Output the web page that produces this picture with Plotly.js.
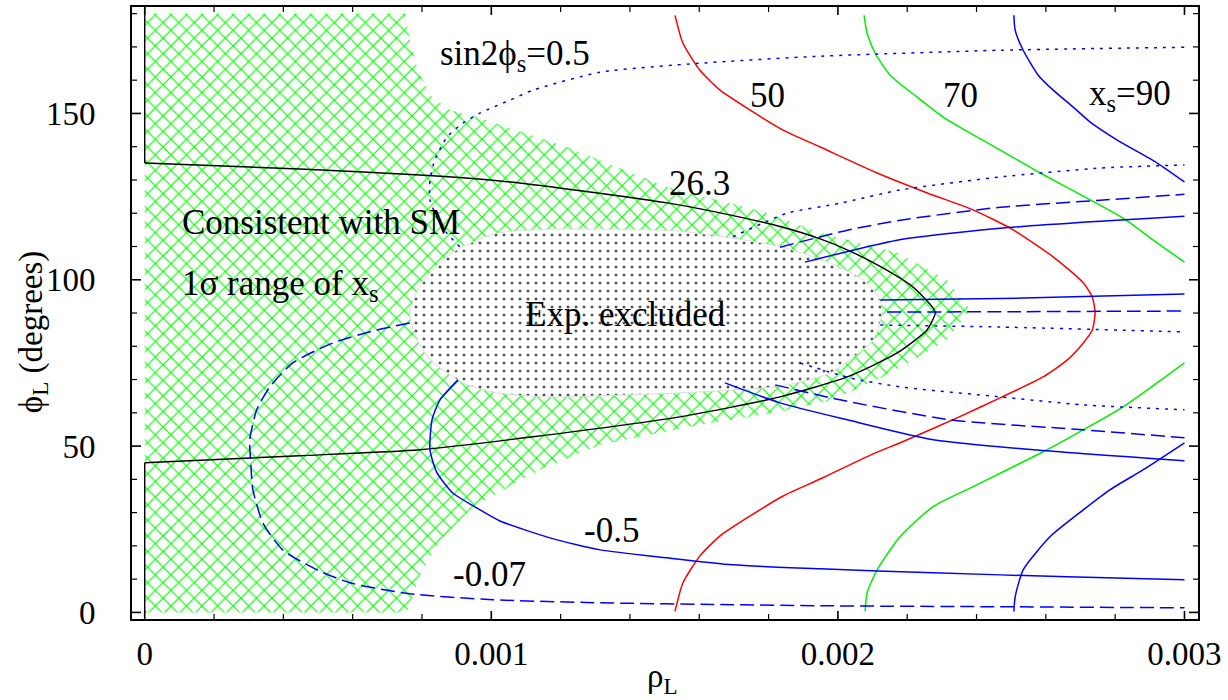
<!DOCTYPE html>
<html>
<head>
<meta charset="utf-8">
<script src="https://cdn.plot.ly/plotly-3.0.1.min.js"></script>
<style>html,body{margin:0;padding:0;background:#fff;}#plot{width:1228px;height:700px;}</style>
</head>
<body>
<div id="plot"></div>
<script>
// ---------- data (rho_L, phi_L in degrees) ----------
// region consistent with SM (1 sigma range of x_s)
const smRegionX = [0, 0, 0.000751, 0.000765, 0.000788, 0.000823, 0.000880, 0.000958, 0.001218, 0.001507, 0.001796, 0.001949, 0.002171, 0.002315, 0.002382, 0.002315, 0.002142, 0.001986, 0.001833, 0.001602, 0.001314, 0.001140, 0.000947, 0.000852, 0.000794, 0.000756, 0];
const smRegionY = [0, 180, 180, 172.0, 163.0, 155.5, 151.0, 148.9, 139.9, 127.9, 120.1, 114.1, 108.1, 100.0, 91.0, 81.9, 71.4, 63.9, 60.3, 56.4, 50.4, 42.9, 31.7, 21.8, 11.3, 0, 0];

// experimentally excluded region
const exclX = [0.000765, 0.000788, 0.000823, 0.000866, 0.000918, 0.001016, 0.001160, 0.001544, 0.001833, 0.001978, 0.002073, 0.002122, 0.002128, 0.002102, 0.001978, 0.001833, 0.001544, 0.001160, 0.001016, 0.000918, 0.000823, 0.000779, 0.000765];
const exclY = [90.0, 97.0, 102.0, 106.5, 110.0, 114.0, 115.2, 114.6, 110.0, 105.0, 100.0, 94.0, 90.0, 82.0, 72.0, 68.0, 66.0, 64.8, 66.0, 69.0, 76.0, 83.5, 90.0];

// Delta M contour 26.3 (black)
const c263X = [0, 0.000447, 0.000794, 0.001025, 0.001218, 0.001507, 0.001660, 0.001833, 0.001949, 0.002027, 0.002122, 0.002217, 0.002275, 0.002281, 0.002257, 0.002171, 0.002027, 0.001833, 0.001544, 0.001120, 0.000794, 0.000447, 0];
const c263Y = [135.1, 133.3, 131.5, 129.7, 127.3, 123.1, 120.1, 116.0, 112.3, 109.0, 104.0, 97.8, 91.5, 90.0, 84.9, 78.0, 70.8, 64.8, 58.8, 52.8, 48.9, 47.1, 45.0];
const c263TopX = [0, 0];
const c263TopY = [135.1, 182];
const c263BotX = [0, 0];
const c263BotY = [0, 45.0];

// x_s = 50 (red)
const xs50X = [0.001530, 0.001553, 0.001602, 0.001660, 0.001747, 0.001842, 0.001949, 0.002113, 0.002258, 0.002390, 0.002506, 0.002621, 0.002708, 0.002734, 0.002742, 0.002734, 0.002708, 0.002662, 0.002592, 0.002468, 0.002344, 0.002180, 0.002100, 0.001949, 0.001842, 0.001747, 0.001660, 0.001602, 0.001553, 0.001530];
const xs50Y = [179.5, 171.1, 163.0, 157.0, 151.0, 145.0, 139.9, 132.1, 126.1, 121.0, 115.0, 106.9, 99.1, 94.8, 90.0, 84.9, 81.0, 75.9, 70.8, 64.5, 58.5, 51.0, 47.6, 40.1, 35.0, 29.0, 23.0, 17.0, 8.9, 0.3];

// x_s = 70 (green), upper and lower branch
const xs70UpX = [0.0020756, 0.0020843, 0.0021074, 0.0021507, 0.0022286, 0.0023037, 0.0023816, 0.0024683, 0.0025837, 0.0027281, 0.0028233, 0.0029099, 0.0030];
const xs70UpY = [179.5, 174.1, 168.1, 161.5, 154.9, 148.9, 144.1, 139.0, 132.1, 124.0, 118.5, 111.9, 105.3];
const xs70LoX = [0.0020785, 0.0020843, 0.0021132, 0.0021796, 0.0022748, 0.0023903, 0.0025924, 0.0027079, 0.0028233, 0.0030];
const xs70LoY = [0.3, 5.9, 12.8, 22.8, 31.8, 37.8, 48.3, 54.9, 61.8, 75.0];

// x_s = 90 (blue), upper and lower branch
const xs90UpX = [0.0025078, 0.0025115, 0.0025346, 0.0025779, 0.0026212, 0.0026790, 0.0027281, 0.0028060, 0.0029215, 0.0030];
const xs90UpY = [179.5, 175.0, 169.0, 161.5, 157.0, 151.9, 147.4, 142.0, 135.1, 129.4];
const xs90LoX = [0.0025078, 0.0025115, 0.0025346, 0.0026126, 0.0027079, 0.0027858, 0.0028811, 0.0030];
const xs90LoY = [0.3, 4.7, 12.8, 22.8, 30.8, 36.9, 42.9, 51.0];

// sin2phi_s = 0.5 (dotted)
const s05aX = [0.000909, 0.000872, 0.000843, 0.000823, 0.000823, 0.000837, 0.000872, 0.000918, 0.000967, 0.001054, 0.001120, 0.001314, 0.001602, 0.001949, 0.002468, 0.0030];
const s05aY = [109.9, 114.0, 118.9, 124.0, 130.0, 136.0, 142.9, 147.1, 150.1, 154.0, 157.0, 162.4, 165.1, 167.2, 169.0, 169.9];
const s05bX = [0.001697, 0.001853, 0.002006, 0.002180, 0.002468, 0.002757, 0.0030];
const s05bY = [112.9, 120.0, 123.0, 127.0, 130.9, 133.6, 134.5];
const s05cX = [0.002122, 0.002468, 0.0030];
const s05cY = [86.4, 85.8, 84.3];
const s05dX = [0.001891, 0.002035, 0.002180, 0.002468, 0.002708, 0.0030];
const s05dY = [75.0, 70.5, 67.8, 64.8, 62.4, 60.9];

// sin2phi_s = -0.07 (dashed)
const s007aX = [0.000765, 0.000670, 0.000543, 0.000427, 0.000361, 0.000323, 0.000303, 0.000306, 0.000312, 0.000341, 0.000398, 0.000497, 0.000592, 0.000765, 0.001005, 0.001314, 0.001697, 0.001949, 0.002468, 0.0030];
const s007aY = [87.0, 84.9, 81.0, 75.0, 67.8, 60.9, 51.8, 44.9, 36.9, 26.9, 18.8, 12.8, 8.9, 5.6, 3.8, 2.9, 2.3, 2.0, 1.7, 1.4];
const s007bX = [0.001833, 0.002027, 0.002180, 0.002468, 0.002757, 0.0030];
const s007bY = [109.8, 114.9, 117.9, 121.8, 123.9, 125.7];
const s007cX = [0.002142, 0.002500, 0.0030];
const s007cY = [90.3, 90.4, 90.6];
const s007dX = [0.001819, 0.002006, 0.002324, 0.002708, 0.0030];
const s007dY = [68.4, 63.9, 57.9, 54.9, 52.5];

// sin2phi_s = -0.5 (solid blue)
const s050aX = [0.000904, 0.000852, 0.000829, 0.000823, 0.000843, 0.000889, 0.000958, 0.001025, 0.001169, 0.001314, 0.001507, 0.001697, 0.001949, 0.002275, 0.002662, 0.0030];
const s050aY = [69.9, 63.9, 57.9, 48.9, 42.0, 35.9, 31.4, 27.5, 22.4, 18.8, 16.4, 14.3, 13.1, 11.9, 10.7, 9.8];
const s050bX = [0.001905, 0.002171, 0.002468, 0.002757, 0.0030];
const s050bY = [105.3, 111.9, 115.5, 117.6, 119.1];
const s050cX = [0.002122, 0.002535, 0.0030];
const s050cY = [93.9, 94.5, 95.7];
const s050dX = [0.001674, 0.001833, 0.002027, 0.002275, 0.002564, 0.0030];
const s050dY = [69.0, 63.0, 57.9, 51.9, 48.9, 45.6];

// labels
const labelText = ['sin2ϕ<sub>s</sub>=0.5', '50', '70', 'x<sub>s</sub>=90', '26.3', 'Consistent with SM', '1σ range of x<sub>s</sub>', 'Exp. excluded', '-0.5', '-0.07'];
const labelX = [0.001068, 0.001796, 0.002353, 0.002844, 0.001602, 0.000101, 0.000101, 0.001386, 0.001348, 0.000996];
const labelY = [167.5, 155.5, 155.5, 155.5, 129.0, 117.3, 98.4, 89.5, 24.7, 11.3];
const xTickVals = [0, 0.001, 0.002, 0.003];
const xTickText = ['0', '0.001', '0.002', '0.003'];
const yTickVals = [0, 50, 100, 150];
const xMinorStep = 0.0002, xMinorCount = 15;
const yMinorStep = 10, yMinorCount = 18;

// ---------- drawing ----------
const FONT = '"Liberation Serif", "Times New Roman", Times, serif';
const BLUE = '#0000ff';
const dotted = '3px,6px';
const dashed = '14px,6px';
const W = 1228, H = 700, M = {l: 132, r: 30, t: 7, b: 81};
const xRange = [-0.0000367, 0.003039];
const yRange = [-1.98, 182];
const dxPerPx = (xRange[1] - xRange[0]) / (W - M.l - M.r);
const dyPerPx = (yRange[1] - yRange[0]) / (H - M.t - M.b);

function ln(x, y, color, dash, w) {
  return {x: x, y: y, type: 'scatter', mode: 'lines', hoverinfo: 'skip', showlegend: false,
          line: {color: color, width: w || 1.5, dash: dash || 'solid', shape: 'spline', smoothing: 0.6}};
}

// inside tick marks on all four sides, built from tick values and axis scale
const tkX = [], tkY = [], tmX = [], tmY = [];
function addX(v, len, ax, ay) {
  ax.push(v, v, null, v, v, null);
  ay.push(yRange[0], yRange[0] + len * dyPerPx, null, yRange[1], yRange[1] - len * dyPerPx, null);
}
function addY(v, len, ax, ay) {
  ay.push(v, v, null, v, v, null);
  ax.push(xRange[0], xRange[0] + len * dxPerPx, null, xRange[1], xRange[1] - len * dxPerPx, null);
}
for (let i = 0; i <= xMinorCount; i++) {
  const v = +(i * xMinorStep).toFixed(6);
  if (xTickVals.some(t => Math.abs(t - v) < 1e-9)) addX(v, 8, tkX, tkY); else addX(v, 5, tmX, tmY);
}
for (let i = 0; i <= yMinorCount; i++) {
  const v = i * yMinorStep;
  if (yTickVals.indexOf(v) >= 0) addY(v, 9, tkX, tkY); else addY(v, 5, tmX, tmY);
}

const traces = [
  {x: smRegionX, y: smRegionY, type: 'scatter', mode: 'lines', fill: 'toself', showlegend: false, hoverinfo: 'skip',
   line: {width: 0, color: 'rgba(0,0,0,0)'}, fillcolor: 'rgba(0,0,0,0)',
   fillpattern: {shape: 'x', fgcolor: '#00ff00', bgcolor: 'white', size: 11, solidity: 0.2}},
  {x: exclX, y: exclY, type: 'scatter', mode: 'lines', fill: 'toself', showlegend: false, hoverinfo: 'skip',
   line: {width: 1, color: '#dddddd', shape: 'spline', smoothing: 0.6}, fillcolor: 'rgba(0,0,0,0)',
   fillpattern: {shape: '.', fgcolor: '#505050', bgcolor: 'white', size: 8, solidity: 0.11}},
  ln(c263X, c263Y, 'black', 'solid', 1.4),
  ln(c263TopX, c263TopY, 'black', 'solid', 1.4),
  ln(c263BotX, c263BotY, 'black', 'solid', 1.4),
  ln(xs50X, xs50Y, '#ff0000'),
  ln(xs70UpX, xs70UpY, '#00ee00'),
  ln(xs70LoX, xs70LoY, '#00ee00'),
  ln(xs90UpX, xs90UpY, BLUE),
  ln(xs90LoX, xs90LoY, BLUE),
  ln(s05aX, s05aY, BLUE, dotted),
  ln(s05bX, s05bY, BLUE, dotted),
  ln(s05cX, s05cY, BLUE, dotted),
  ln(s05dX, s05dY, BLUE, dotted),
  ln(s007aX, s007aY, BLUE, dashed),
  ln(s007bX, s007bY, BLUE, dashed),
  ln(s007cX, s007cY, BLUE, dashed),
  ln(s007dX, s007dY, BLUE, dashed),
  ln(s050aX, s050aY, BLUE),
  ln(s050bX, s050bY, BLUE),
  ln(s050cX, s050cY, BLUE),
  ln(s050dX, s050dY, BLUE),
  {x: tkX, y: tkY, type: 'scatter', mode: 'lines', hoverinfo: 'skip', showlegend: false, connectgaps: false,
   line: {color: 'black', width: 1.6}},
  {x: tmX, y: tmY, type: 'scatter', mode: 'lines', hoverinfo: 'skip', showlegend: false, connectgaps: false,
   line: {color: 'black', width: 1.2}}
];

const annotations = labelText.map((t, i) => ({
  x: labelX[i], y: labelY[i], xref: 'x', yref: 'y', text: t, showarrow: false,
  xanchor: (i === 5 || i === 6) ? 'left' : 'center', yanchor: 'middle',
  font: {family: FONT, size: 35, color: 'black'}
}));
annotations.push({x: 0.498, y: -0.097, xref: 'paper', yref: 'paper', text: 'ρ<sub>L</sub>', showarrow: false,
  xanchor: 'center', yanchor: 'middle', font: {family: FONT, size: 33, color: 'black'}});
annotations.push({x: -0.093, y: 0.47, xref: 'paper', yref: 'paper', text: 'ϕ<sub>L</sub> (degrees)', showarrow: false,
  textangle: -90, xanchor: 'center', yanchor: 'middle', font: {family: FONT, size: 33, color: 'black'}});

const layout = {
  width: W, height: H,
  margin: M,
  paper_bgcolor: 'white', plot_bgcolor: 'white',
  showlegend: false,
  font: {family: FONT, size: 33, color: 'black'},
  xaxis: {
    range: xRange, tickmode: 'array', tickvals: xTickVals, ticktext: xTickText,
    ticks: '', showline: true, linecolor: 'black', linewidth: 2, mirror: true,
    showgrid: false, zeroline: false, ticklabelstandoff: 4,
    tickfont: {family: FONT, size: 33, color: 'black'}
  },
  yaxis: {
    range: yRange, tickmode: 'array', tickvals: yTickVals,
    ticks: '', showline: true, linecolor: 'black', linewidth: 2, mirror: true,
    showgrid: false, zeroline: false, ticklabelstandoff: 28,
    tickfont: {family: FONT, size: 33, color: 'black'}
  },
  annotations: annotations
};

Plotly.newPlot('plot', traces, layout, {staticPlot: true, displayModeBar: false});
</script>
</body>
</html>
